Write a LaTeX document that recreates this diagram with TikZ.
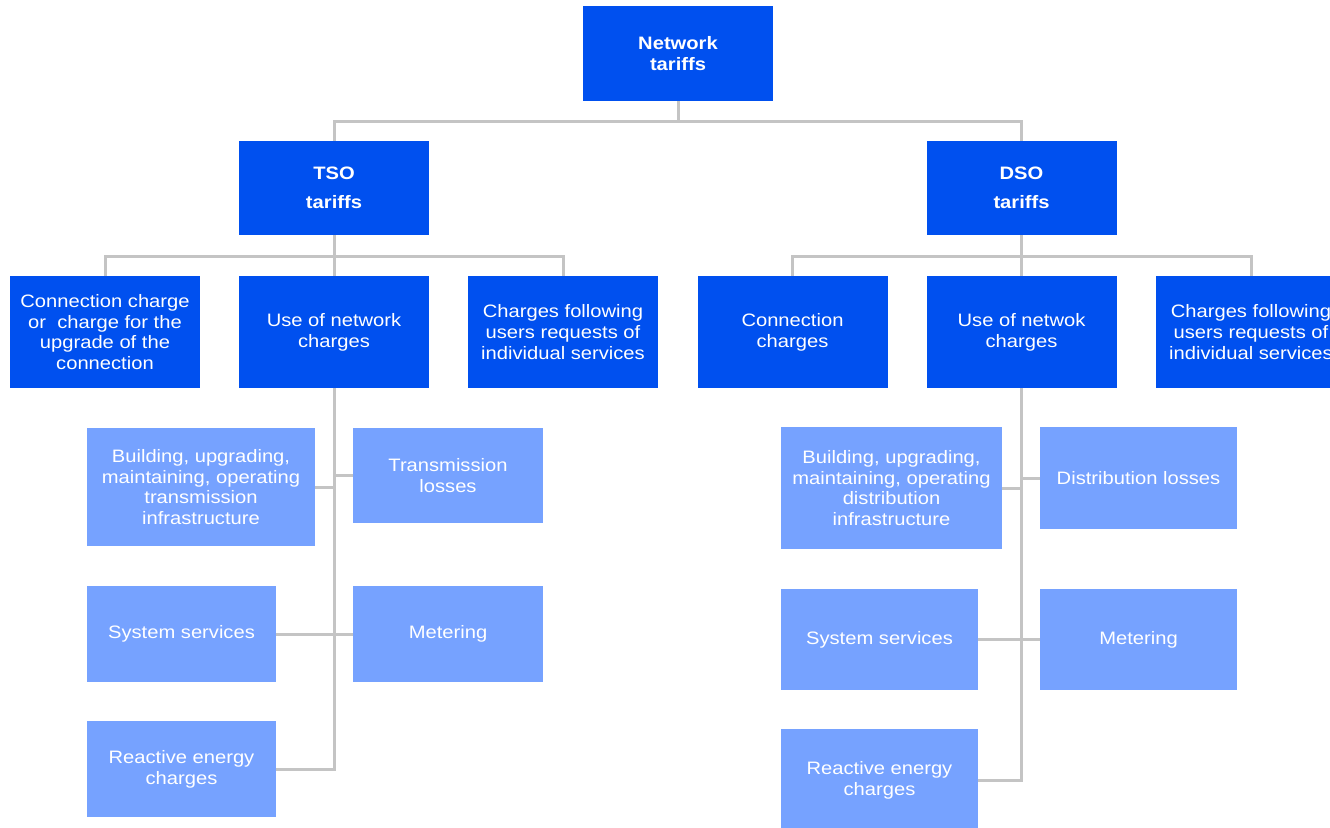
\documentclass[tikz,border=0pt]{standalone}
\usepackage{fontspec}
\setmainfont{Liberation Sans}[FakeStretch=1.12]
\definecolor{darkblue}{HTML}{0050EF}
\definecolor{lightblue}{HTML}{76A2FF}
\definecolor{linegray}{HTML}{C4C4C4}
\begin{document}
\begin{tikzpicture}[x=1pt,y=-1pt,
    headbox/.style={fill=darkblue,text=white,inner sep=0pt,align=center,
        minimum width=190pt,font=\bfseries\fontsize{18}{21}\selectfont},
    chargebox/.style={fill=darkblue,text=white,inner sep=0pt,align=center,
        minimum width=190pt,minimum height=112pt,font=\fontsize{18}{20.7}\selectfont},
    itembox/.style={fill=lightblue,text=white,inner sep=0pt,align=center,
        font=\fontsize{18}{20.7}\selectfont},
    link/.style={draw=linegray,line width=3pt}]
                \useasboundingbox (0,0) rectangle (1330,827);
                %NODE
                \node[headbox,minimum height=95pt] (net) at (678,53.5){Network\\tariffs};
                \node[headbox,minimum height=94pt] (tso) at (334,188){TSO\\[8pt]tariffs};
                \node[headbox,minimum height=94pt] (dso) at (1021.5,188){DSO\\[8pt]tariffs};

                \node[chargebox] (tconn) at (105,332){Connection charge\\or\ \ charge for the\\upgrade of the\\connection};
                \node[chargebox] (tuse) at (334,332){Use of network\\charges};
                \node[chargebox] (treq) at (563,332){Charges following\\users requests of\\individual services};
                \node[chargebox] (dconn) at (792.5,332){Connection\\charges};
                \node[chargebox] (duse) at (1021.5,332){Use of netwok\\charges};
                \node[chargebox] (dreq) at (1251,332){Charges following\\users requests of\\individual services};

                \node[itembox,minimum width=228pt,minimum height=118pt] (tbuild) at (201,487){Building, upgrading,\\maintaining, operating\\transmission\\infrastructure};
                \node[itembox,minimum width=190pt,minimum height=95pt] (tloss) at (448,475.5){Transmission\\losses};
                \node[itembox,minimum width=189pt,minimum height=96pt] (tsys) at (181.5,634){System services};
                \node[itembox,minimum width=190pt,minimum height=96pt] (tmeter) at (448,634){Metering};
                \node[itembox,minimum width=189pt,minimum height=96pt] (treact) at (181.5,769){Reactive energy\\charges};

                \node[itembox,minimum width=221pt,minimum height=122pt] (dbuild) at (891.5,488){Building, upgrading,\\maintaining, operating\\distribution\\infrastructure};
                \node[itembox,minimum width=197pt,minimum height=102pt] (dloss) at (1138.5,478){Distribution losses};
                \node[itembox,minimum width=197pt,minimum height=101pt] (dsys) at (879.5,639.5){System services};
                \node[itembox,minimum width=197pt,minimum height=101pt] (dmeter) at (1138.5,639.5){Metering};
                \node[itembox,minimum width=197pt,minimum height=102pt] (dreact) at (879.5,780){Reactive energy\\charges};

                %EDGE
                \draw[link] (net.south) -- ++(0,20) -| (tso.north);
                \draw[link] (net.south) -- ++(0,20) -| (dso.north);
                \draw[link] (tso.south) -- ++(0,21) -| (tconn.north);
                \draw[link] (tso.south) -- (tuse.north);
                \draw[link] (tso.south) -- ++(0,21) -| (treq.north);
                \draw[link] (dso.south) -- ++(0,21) -| (dconn.north);
                \draw[link] (dso.south) -- (duse.north);
                \draw[link] (dso.south) -- ++(0,21) -| (dreq.north);

                \draw[link] (tbuild.east) -| (tuse.south);
                \draw[link] (tloss.west) -| (tuse.south);
                \draw[link] (tsys.east) -| (tuse.south);
                \draw[link] (tmeter.west) -| (tuse.south);
                \draw[link] (treact.east) -| (tuse.south);

                \draw[link] (dbuild.east) -| (duse.south);
                \draw[link] (dloss.west) -| (duse.south);
                \draw[link] (dsys.east) -| (duse.south);
                \draw[link] (dmeter.west) -| (duse.south);
                \draw[link] (dreact.east) -| (duse.south);
            \end{tikzpicture}
\end{document}
